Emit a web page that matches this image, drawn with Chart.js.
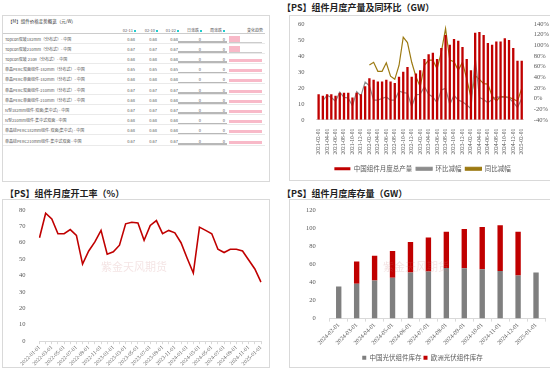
<!DOCTYPE html>
<html>
<head>
<meta charset="utf-8">
<script src="https://cdn.jsdelivr.net/npm/chart.js@4.4.1/dist/chart.umd.min.js"></script>
<style>
body{margin:0;width:550px;height:369px;background:#fff;position:relative;overflow:hidden;font-family:"Noto Sans CJK SC",sans-serif;}
.box{position:absolute;border:1px solid #d9d9d9;background:#fff;box-sizing:border-box;}
.title{position:absolute;font-size:9px;font-weight:bold;color:#222;white-space:nowrap;}
.wm{position:absolute;font-size:11px;color:rgba(200,120,120,0.2);white-space:nowrap;}
.row{position:absolute;left:0;width:262px;height:10.2px;border-bottom:0.5px solid #eaeaea;box-sizing:border-box;font-size:4px;line-height:4px;color:#555;}
.row span{position:absolute;top:3px;white-space:nowrap;}
.row .r{text-align:right;}
.hd{border-bottom:0.6px solid #ccc;}
.hd i{display:inline-block;width:2px;height:2px;background:#2cc;margin-left:1px;}
.gb{position:absolute;left:175px;width:49px;height:1.6px;bottom:0;background:#b8b8b8;}
.pk{position:absolute;left:226px;width:33px;height:3px;top:5px;background:#f8b9c8;}
.pks{position:absolute;left:226px;width:11px;height:6px;top:2px;background:#f8b9c8;}
.pkl{position:absolute;left:226px;width:33px;height:0.6px;top:8px;background:#ccc;}
</style>
</head>
<body>
<div class="box" id="tbox" style="left:2px;top:15px;width:268px;height:167px;">
<div style="position:absolute;left:5px;top:3px;font-size:4.5px;line-height:5px;color:#333;">【M】组件价格走势概览（元/W）</div>
</div>

<div class="title" style="left:282px;top:1px;">【PS】组件月度产量及同环比（GW）</div>
<div class="box" style="left:289px;top:15px;width:265px;height:166px;">
<div style="position:absolute;left:0;top:0;width:261px;height:165px;"><canvas id="prod"></canvas></div>
</div>

<div class="title" style="left:5px;top:187px;">【PS】组件月度开工率（%）</div>
<div class="box" style="left:2px;top:199px;width:268px;height:169px;">
<div style="position:absolute;left:0;top:0;width:266px;height:167px;"><canvas id="rate"></canvas></div>
<div class="wm" style="left:98px;top:58px;">紫金天风期货</div>
</div>

<div class="title" style="left:282px;top:187px;">【PS】组件月度库存量（GW）</div>
<div class="box" style="left:289px;top:199px;width:265px;height:169px;">
<div style="position:absolute;left:0;top:0;width:261px;height:168px;"><canvas id="stock"></canvas></div>
<div class="wm" style="left:93px;top:58px;">紫金天风期货</div>
</div>

<script>
// 价格表
const priceHeads=["02-11","02-10","01-22","日涨跌","周涨跌","变化趋势"];
const priceNames=["Topcon双玻182mm（分布式）- 中国","Topcon双玻210mm（分布式）- 中国","Topcon双玻 210R（分布式）- 中国","单晶PERC双面组件-182mm（分布式）- 中国","单晶PERC单面组件-182mm（分布式）- 中国","单晶PERC双面组件-210mm（分布式）- 中国","单晶PERC单面组件-210mm（分布式）- 中国","N型182mm组件-双面(集中式) - 中国","N型210mm组件-集中式双面 - 中国","单晶硅PERC182mm组件-双面(集中式) - 中国","单晶硅PERC210mm组件-集中式双面 - 中国"];
const priceNow=[0.68,0.67,0.68,0.65,0.68,0.67,0.68,0.67,0.68,0.68,0.67];
const dayChg=[0,0,0,0,0,0,0,0,0,0,0];
const weekChg=[0,0,0,0,0,0,0,0,0,0,0];

// 产量
const prodMonths=["2021-02-01","2021-03-01","2021-04-01","2021-05-01","2021-06-01","2021-07-01","2021-08-01","2021-09-01","2021-10-01","2021-11-01","2021-12-01",
"2022-01-01","2022-02-01","2022-03-01","2022-04-01","2022-05-01","2022-06-01","2022-07-01","2022-08-01","2022-09-01","2022-10-01","2022-11-01","2022-12-01",
"2023-01-01","2023-02-01","2023-03-01","2023-04-01","2023-05-01","2023-06-01","2023-07-01","2023-08-01","2023-09-01","2023-10-01","2023-11-01","2023-12-01",
"2024-01-01","2024-02-01","2024-03-01","2024-04-01","2024-05-01","2024-06-01","2024-07-01","2024-08-01","2024-09-01","2024-10-01","2024-11-01","2024-12-01",
"2025-01-01","2025-02-01"];
const prodOutput=[16,15,16,16,15,17,17,17,14,17,16,
21,26,25,24,24,25,24,23,27,30,33,27,
29,31,38,41,42,38,45,53,47,50.5,49.5,45.5,
38,31,54.5,55,53,48,47,49,49,51,50,45,
37,37];
const prodMoM=[null,-4,6,2,-5,12,2,1,-14,13,5,
31,24,-3,-3,0,3,-3,-3,14,11,10,-15,
7,8,22,8,3,-8,16,19,-11,6,-3,-6,
-12,-19,78,2,-2,-8,-2,3,2,3,1,-7,
-17,0];
const prodYoY=[null,null,null,null,null,null,null,null,null,null,null,
null,63,68,51,51,67,42,36,62,115,105,68,
41,22,62,72,72,56,87,131,72,69,53,68,
37,2,43,36,28,27,5,-5,4,3,2,-1,
-5,19];

// 开工率
const rateMonths=["2022-01-01","2022-02-01","2022-03-01","2022-04-01","2022-05-01","2022-06-01","2022-07-01","2022-08-01","2022-09-01","2022-10-01","2022-11-01","2022-12-01",
"2023-01-01","2023-02-01","2023-03-01","2023-04-01","2023-05-01","2023-06-01","2023-07-01","2023-08-01","2023-09-01","2023-10-01","2023-11-01","2023-12-01",
"2024-01-01","2024-02-01","2024-03-01","2024-04-01","2024-05-01","2024-06-01","2024-07-01","2024-08-01","2024-09-01","2024-10-01","2024-11-01","2024-12-01",
"2025-01-01"];
const rateValues=[63,78,74.5,65.5,65.5,68,64.5,47,55,60.5,67.5,53,
54.5,58.5,71.5,72.5,72,61.5,70.5,73.5,65.5,67.5,66,60,
50.5,41.5,69.5,67.5,65.5,56,54,56,56,55,49.5,44,
36];

// 库存
const stockMonths=["2024-02-01","2024-03-01","2024-04-01","2024-05-01","2024-06-01","2024-07-01","2024-08-01","2024-09-01","2024-10-01","2024-11-01","2024-12-01","2025-01-01"];
const stockChina=[35.5,38.5,42,45,51,52,56,55.5,54.5,52.5,47.5,51];
const stockEurope=[null,24.5,27.5,29.5,33.5,37.5,40,43.5,46.5,50.5,48.5,null];

// 表格
let tbox=document.getElementById("tbox");
let hd=document.createElement("div");
hd.className="row hd";
hd.style.top="9px";
hd.style.height="9px";
let hx=[133,155,176,199,222];
let h='';
for(let k=0;k<5;k++){
h+='<span class="r" style="right:'+(262-hx[k])+'px;top:2.5px">'+priceHeads[k]+'<i></i></span>';
}
h+='<span class="r" style="right:2px;top:2.5px">'+priceHeads[5]+'</span>';
hd.innerHTML=h;
tbox.appendChild(hd);
priceNames.forEach((n,i)=>{
let r=document.createElement("div");
r.className="row";
r.style.top=(17.5+i*10.2)+"px";
let s='<span style="left:2px">'+n+'</span>';
s+='<span class="r" style="right:130px">'+priceNow[i].toFixed(2)+'</span>';
s+='<span class="r" style="right:108px">'+priceNow[i].toFixed(2)+'</span>';
s+='<span class="r" style="right:87px">'+priceNow[i].toFixed(2)+'</span>';
s+='<span class="r" style="right:64px">'+dayChg[i]+'</span>';
s+='<span class="r" style="right:40px">'+weekChg[i]+'</span>';
s+='<div class="gb"></div>';
s+=i<2?'<div class="pks"></div><div class="pkl"></div>':'<div class="pk"></div>';
r.innerHTML=s;
tbox.appendChild(r);
});

const serif="'Liberation Serif','Noto Sans CJK SC',serif";
const cjk="'Noto Sans CJK SC',sans-serif";
Chart.defaults.color="#595959";
Chart.defaults.animation=false;

new Chart(document.getElementById("prod"),{
type:'bar',
data:{
labels:prodMonths,
datasets:[
{label:'中国组件月度总产量',data:prodOutput,backgroundColor:'#C00000',barPercentage:0.55,categoryPercentage:1,yAxisID:'y'},
{label:'环比减幅',type:'line',data:prodMoM,borderColor:'#8c8c8c',backgroundColor:'#8c8c8c',borderWidth:1.2,pointRadius:0,yAxisID:'y1'},
{label:'同比减幅',type:'line',data:prodYoY,borderColor:'#9c7a12',backgroundColor:'#9c7a12',borderWidth:1.2,pointRadius:0,yAxisID:'y1'}
]
},
options:{
responsive:true,maintainAspectRatio:false,
layout:{padding:{left:4,right:0,top:6,bottom:-1}},
plugins:{
legend:{position:'bottom',labels:{boxWidth:16,boxHeight:3,padding:4,font:{family:cjk,size:6.5}}},
tooltip:{enabled:false}
},
scales:{
x:{grid:{display:false},border:{color:'#d9d9d9'},afterFit:s=>{s.height+=6;},
ticks:{autoSkip:false,maxRotation:90,minRotation:90,padding:1,font:{family:serif,size:5.5},callback:function(v,i){return i%2===0?prodMonths[i]:''}}},
y:{min:0,max:60,grid:{display:false},border:{display:false},ticks:{autoSkip:false,stepSize:10,padding:4,font:{family:serif,size:6.5}}},
y1:{position:'right',min:-40,max:140,grid:{display:false},border:{display:false},ticks:{autoSkip:false,stepSize:20,padding:2,font:{family:serif,size:6.5},callback:v=>v+'%'}}
}
}
});

new Chart(document.getElementById("rate"),{
type:'line',
data:{labels:rateMonths,datasets:[{data:rateValues,borderColor:'#C00000',borderWidth:1.6,pointRadius:0,tension:0}]},
options:{
responsive:true,maintainAspectRatio:false,
layout:{padding:{left:10,right:8,top:6,bottom:0}},
plugins:{legend:{display:false},tooltip:{enabled:false}},
scales:{
x:{grid:{drawOnChartArea:false,color:'#d9d9d9',tickLength:3},border:{color:'#d9d9d9'},
ticks:{autoSkip:false,maxRotation:45,minRotation:45,padding:0,font:{family:serif,size:5.5},callback:function(v,i){return i%2===0?rateMonths[i]:''}}},
y:{min:0,max:80,grid:{display:false},border:{display:false},ticks:{autoSkip:false,stepSize:10,padding:6,font:{family:serif,size:6.5}}}
}
}
});

new Chart(document.getElementById("stock"),{
type:'bar',
data:{
labels:stockMonths,
datasets:[
{label:'中国光伏组件库存',data:stockChina,backgroundColor:'#7f7f7f',barPercentage:0.3,categoryPercentage:1},
{label:'欧洲光伏组件库存',data:stockEurope,backgroundColor:'#C00000',barPercentage:0.3,categoryPercentage:1}
]
},
options:{
responsive:true,maintainAspectRatio:false,
layout:{padding:{left:10,right:6,top:5,bottom:-3}},
plugins:{
legend:{position:'bottom',labels:{boxWidth:4,boxHeight:4,padding:2,font:{family:cjk,size:6.5}}},
tooltip:{enabled:false}
},
scales:{
x:{stacked:true,grid:{drawOnChartArea:false,color:'#d9d9d9',tickLength:3},border:{color:'#d9d9d9'},afterFit:s=>{s.height+=6;},
ticks:{autoSkip:false,maxRotation:45,minRotation:45,padding:0,font:{family:serif,size:6}}},
y:{stacked:true,min:0,max:120,grid:{display:false},border:{display:false},ticks:{autoSkip:false,stepSize:20,padding:6,font:{family:serif,size:6.5}}}
}
}
});
</script>
</body>
</html>
